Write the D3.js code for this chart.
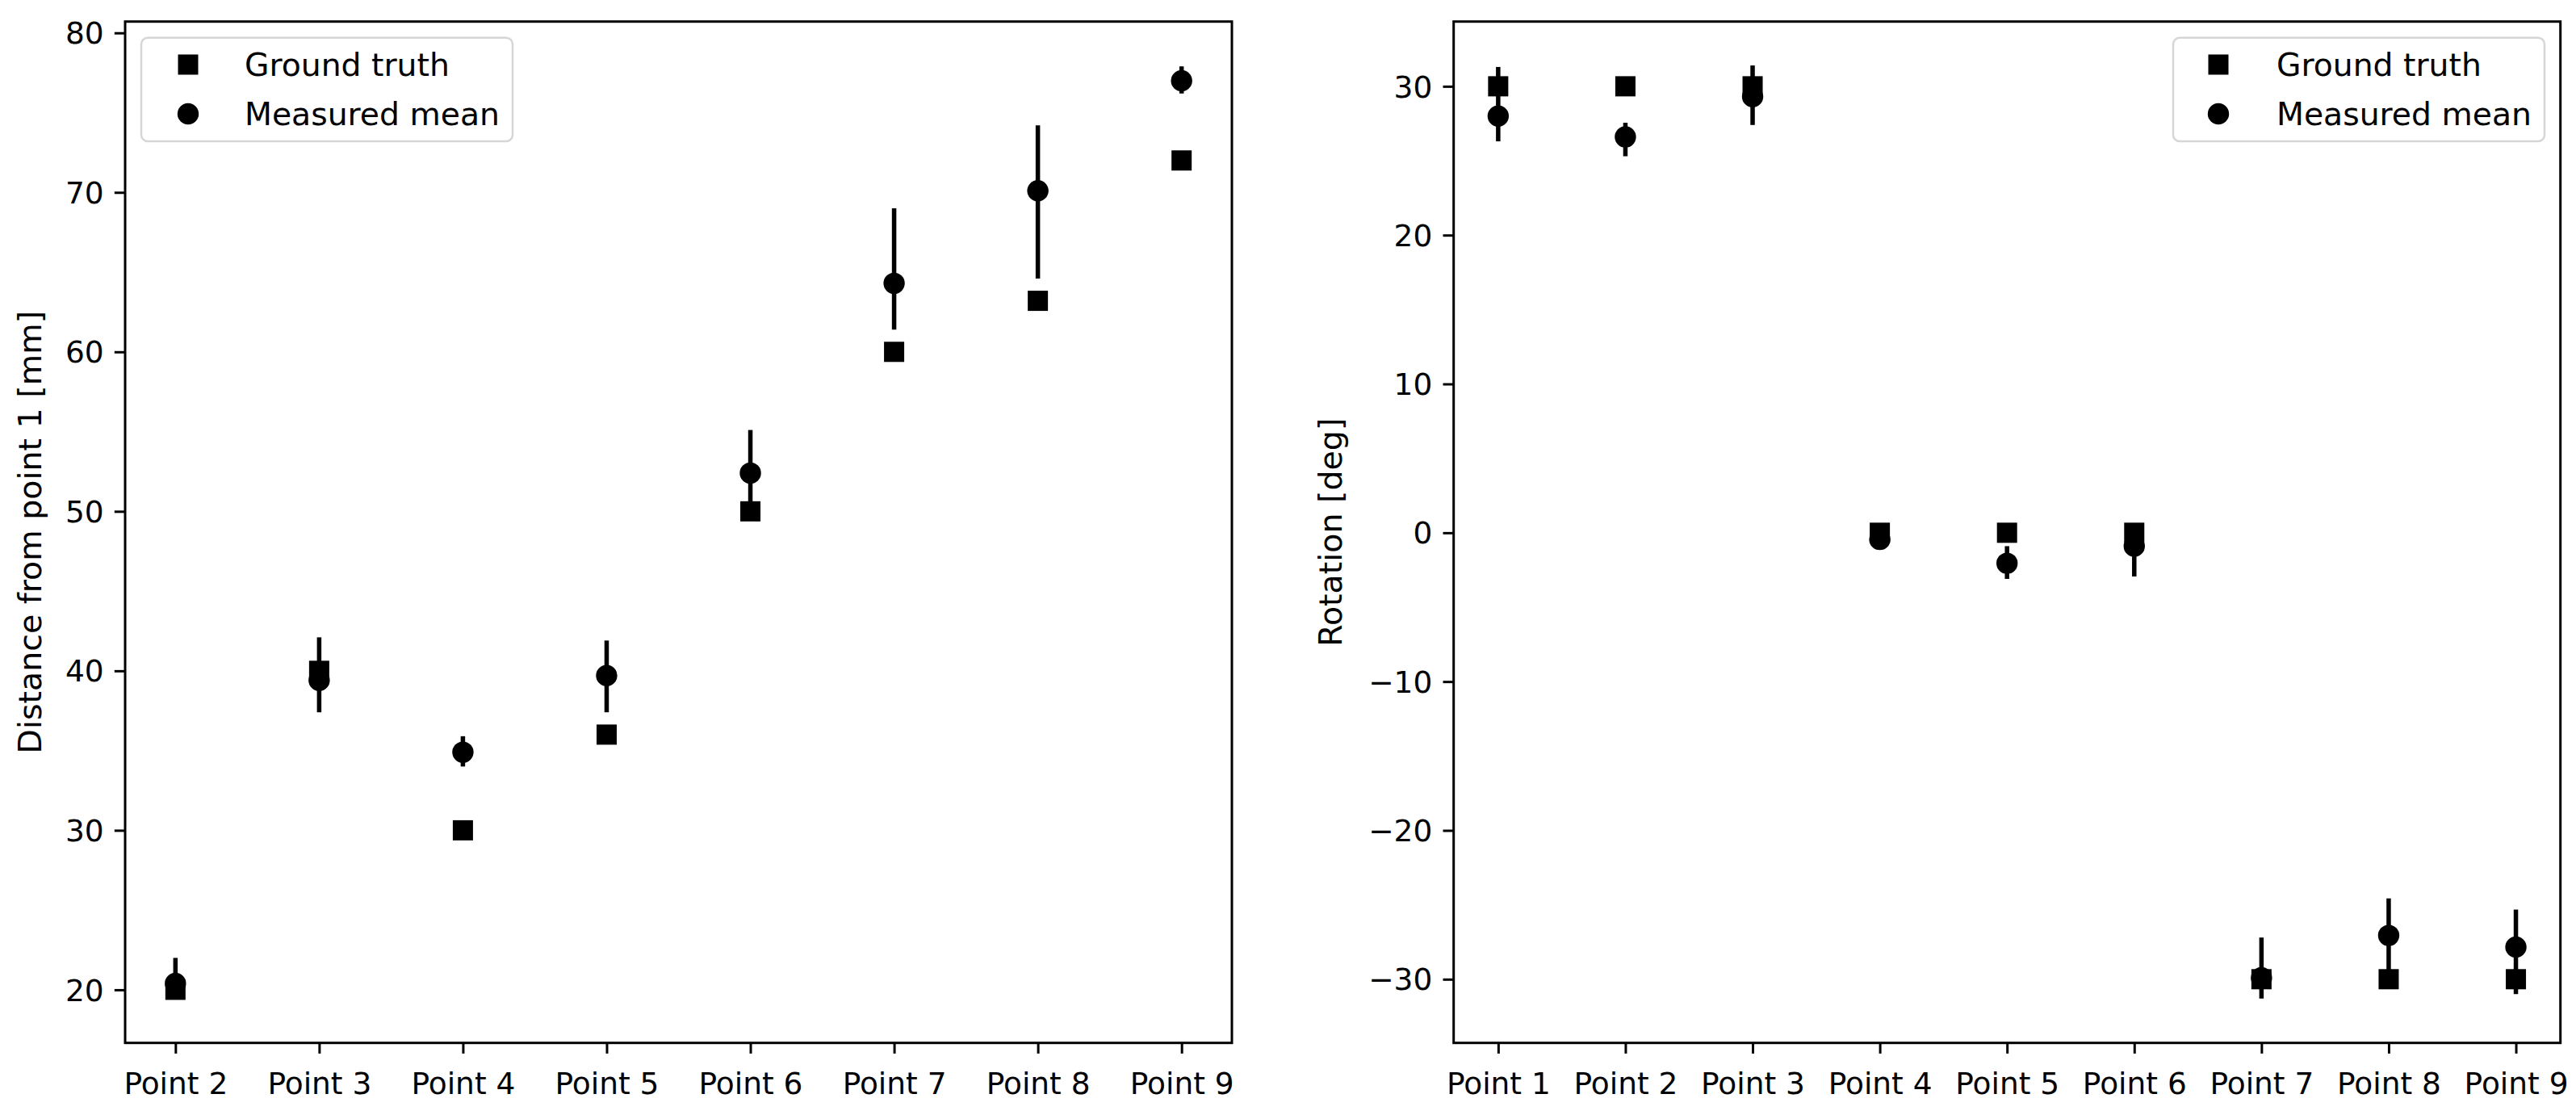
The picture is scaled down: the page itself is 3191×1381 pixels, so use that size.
<!DOCTYPE html>
<html>
<head>
<meta charset="utf-8">
<script src="https://cdn.jsdelivr.net/npm/d3@7"></script>
<style>
  html, body { margin: 0; padding: 0; background: #fff; }
  svg { display: block; }
  text { font-family: "DejaVu Sans", sans-serif; fill: #000; }
</style>
</head>
<body>
<svg id="chart" width="3191" height="1381"></svg>
<script>
// ---------- data ----------
const leftCategories = ["Point 2", "Point 3", "Point 4", "Point 5", "Point 6", "Point 7", "Point 8", "Point 9"];
const leftTruth = [20, 40, 30, 36, 50, 60, 63.2, 72];
const leftMean  = [20.4, 39.4, 34.9, 39.7, 52.4, 64.3, 70.1, 77.0];
const leftLow   = [19.7, 37.4, 34.0, 37.4, 50.4, 61.4, 64.6, 76.2];
const leftHigh  = [22.0, 42.1, 35.9, 41.9, 55.1, 69.0, 74.2, 77.9];
const leftTicks = [20, 30, 40, 50, 60, 70, 80];
const leftDomain = [16.67, 80.71];

const rightCategories = ["Point 1", "Point 2", "Point 3", "Point 4", "Point 5", "Point 6", "Point 7", "Point 8", "Point 9"];
const rightTruth = [30, 30, 30, 0, 0, 0, -30, -30, -30];
const rightMean  = [28.0, 26.6, 29.3, -0.45, -2.05, -0.9, -29.9, -27.06, -27.84];
const rightLow   = [26.3, 25.3, 27.4, -0.7, -3.1, -2.94, -31.3, -29.5, -31.0];
const rightHigh  = [31.3, 27.55, 31.4, -0.2, -0.9, 0.2, -27.2, -24.57, -25.32];
const rightTicks = [-30, -20, -10, 0, 10, 20, 30];
const rightDomain = [-34.28, 34.35];

const legendLabels = ["Ground truth", "Measured mean"];

// ---------- style / layout ----------
const FONT = 37.5;
const LEGEND_FONT = 39.3;
const LABEL_FONT = 39.5;
const TICK = 13.2;
const PAD = 13.2;
const SPINE = 3;
const ERR_W = 5.5;
const SQ = 25;
const CIRC_R = 13.2;
const TOP = 26.7, BOTTOM = 1291.7;

const svg = d3.select("#chart");

function panel(opts) {
  const { x0, x1, cats, truth, mean, low, high, ticks, domain, ylabel, ylabelX, legend } = opts;
  const g = svg.append("g");

  const x = d3.scalePoint().domain(cats).range([x0, x1]).padding(0.35);
  const y = d3.scaleLinear().domain(domain).range([BOTTOM, TOP]);

  // y axis
  const ya = g.append("g").attr("transform", `translate(${x0},0)`)
    .call(d3.axisLeft(y).tickValues(ticks).tickSize(TICK).tickPadding(PAD).tickFormat(d3.format("d")));
  ya.select(".domain").remove();
  ya.selectAll(".tick line").attr("stroke", "#000").attr("stroke-width", SPINE);
  ya.selectAll(".tick text").attr("font-size", FONT).attr("font-family", "DejaVu Sans").attr("fill", "#000").attr("dy", "0.35em");

  // x axis
  const xa = g.append("g").attr("transform", `translate(0,${BOTTOM})`)
    .call(d3.axisBottom(x).tickSize(TICK).tickPadding(PAD));
  xa.select(".domain").remove();
  xa.selectAll(".tick line").attr("stroke", "#000").attr("stroke-width", SPINE);
  xa.selectAll(".tick text").attr("font-size", FONT).attr("font-family", "DejaVu Sans").attr("fill", "#000").attr("dy", "0.98em");

  // y label
  g.append("text")
    .attr("transform", `translate(${ylabelX},${(TOP + BOTTOM) / 2}) rotate(-90)`)
    .attr("text-anchor", "middle").attr("dy", "0.35em")
    .attr("font-size", LABEL_FONT).text(ylabel);

  const rows = cats.map((c, i) => ({ c, t: truth[i], m: mean[i], lo: low[i], hi: high[i] }));

  // ground truth squares
  g.append("g").selectAll("rect").data(rows).join("rect")
    .attr("x", d => x(d.c) - SQ / 2).attr("y", d => y(d.t) - SQ / 2)
    .attr("width", SQ).attr("height", SQ).attr("fill", "#000");

  // error bars
  g.append("g").selectAll("line").data(rows).join("line")
    .attr("x1", d => x(d.c)).attr("x2", d => x(d.c))
    .attr("y1", d => y(d.lo)).attr("y2", d => y(d.hi))
    .attr("stroke", "#000").attr("stroke-width", ERR_W);

  // measured mean circles
  g.append("g").selectAll("circle").data(rows).join("circle")
    .attr("cx", d => x(d.c)).attr("cy", d => y(d.m)).attr("r", CIRC_R).attr("fill", "#000");

  // frame
  g.append("rect").attr("x", x0).attr("y", TOP).attr("width", x1 - x0).attr("height", BOTTOM - TOP)
    .attr("fill", "none").attr("stroke", "#000").attr("stroke-width", SPINE);

  // legend
  const lg = g.append("g");
  lg.append("rect").attr("x", legend.x).attr("y", 46.7).attr("width", 460).attr("height", 128.3)
    .attr("rx", 8).attr("fill", "#fff").attr("fill-opacity", 0.8)
    .attr("stroke", "#d6d6d6").attr("stroke-width", 2.5);
  const rowY = [80, 141];
  lg.append("rect").attr("x", legend.mx - SQ / 2).attr("y", rowY[0] - SQ / 2).attr("width", SQ).attr("height", SQ).attr("fill", "#000");
  lg.append("circle").attr("cx", legend.mx).attr("cy", rowY[1]).attr("r", CIRC_R).attr("fill", "#000");
  legendLabels.forEach((t, i) => {
    lg.append("text").attr("x", legend.tx).attr("y", rowY[i]).attr("dy", "0.36em")
      .attr("font-size", LEGEND_FONT).text(t);
  });
}

panel({
  x0: 155, x1: 1526, cats: leftCategories, truth: leftTruth, mean: leftMean, low: leftLow, high: leftHigh,
  ticks: leftTicks, domain: leftDomain, ylabel: "Distance from point 1 [mm]", ylabelX: 37,
  legend: { x: 175, mx: 233, tx: 303 }
});
panel({
  x0: 1800.7, x1: 3171.7, cats: rightCategories, truth: rightTruth, mean: rightMean, low: rightLow, high: rightHigh,
  ticks: rightTicks, domain: rightDomain, ylabel: "Rotation [deg]", ylabelX: 1648,
  legend: { x: 2692, mx: 2748, tx: 2820 }
});
</script>
</body>
</html>
